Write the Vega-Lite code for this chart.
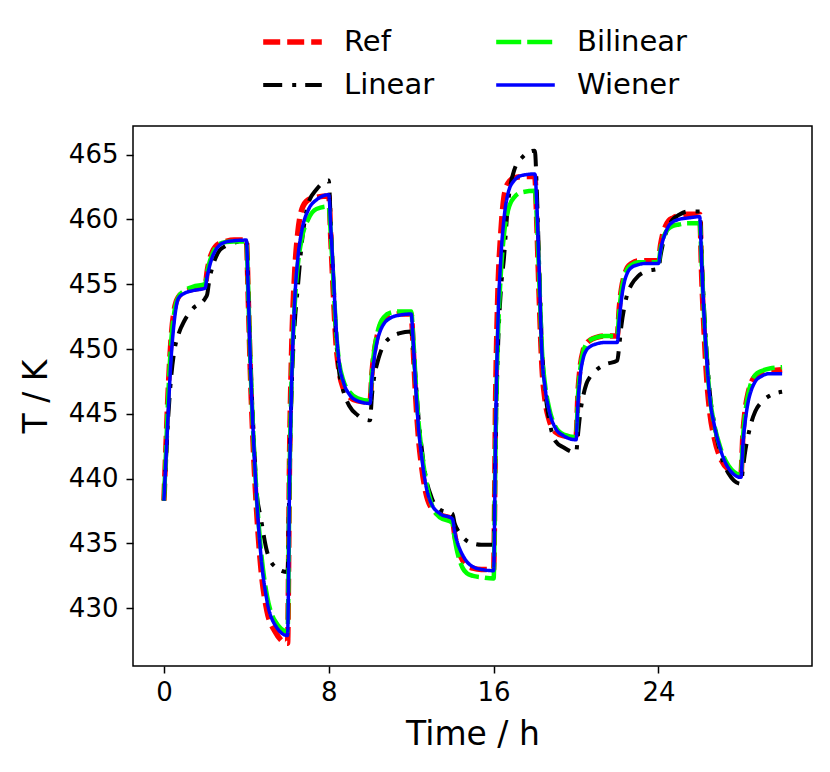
{
  "$schema": "https://vega.github.io/schema/vega-lite/v6.json",
  "width": 679,
  "height": 540,
  "autosize": {"type": "none"},
  "padding": {"left": 133, "top": 126, "right": 18, "bottom": 106},
  "background": "white",
  "config": {
    "view": {"stroke": "black", "strokeWidth": 1.5},
    "axis": {
      "grid": false,
      "domain": false,
      "tickColor": "black",
      "tickWidth": 1.5,
      "tickSize": 7,
      "labelFont": "DejaVu Sans",
      "labelFontSize": 26,
      "labelColor": "black",
      "titleFont": "DejaVu Sans",
      "titleFontSize": 33,
      "titleFontWeight": "normal",
      "titleColor": "black"
    }
  },
  "data": {
    "values": [
      {"t": 0, "Ref": 438.3, "Linear": 438.3, "Bilinear": 438.3, "Wiener": 438.3},
      {"t": 0.1, "Ref": 442.5, "Linear": 441.5, "Bilinear": 442.0, "Wiener": 441.5},
      {"t": 0.2, "Ref": 446.5, "Linear": 444.5, "Bilinear": 446.0, "Wiener": 444.8},
      {"t": 0.35, "Ref": 450.8, "Linear": 447.8, "Bilinear": 450.5, "Wiener": 449.3},
      {"t": 0.5, "Ref": 453.0, "Linear": 449.8, "Bilinear": 452.8, "Wiener": 452.1},
      {"t": 0.7, "Ref": 454.0, "Linear": 451.1, "Bilinear": 454.0, "Wiener": 453.9},
      {"t": 1.0, "Ref": 454.4, "Linear": 452.2, "Bilinear": 454.5, "Wiener": 454.3},
      {"t": 1.4, "Ref": 454.6, "Linear": 453.1, "Bilinear": 454.8, "Wiener": 454.5},
      {"t": 2.0, "Ref": 454.8, "Linear": 453.9, "Bilinear": 455.0, "Wiener": 454.7},
      {"t": 2.1, "Ref": 456.0, "Linear": 454.2, "Bilinear": 455.9, "Wiener": 455.6},
      {"t": 2.2, "Ref": 456.8, "Linear": 455.3, "Bilinear": 456.6, "Wiener": 456.3},
      {"t": 2.35, "Ref": 457.5, "Linear": 456.3, "Bilinear": 457.3, "Wiener": 457.1},
      {"t": 2.5, "Ref": 457.9, "Linear": 457.0, "Bilinear": 457.8, "Wiener": 457.6},
      {"t": 2.7, "Ref": 458.15, "Linear": 457.6, "Bilinear": 458.1, "Wiener": 458.0},
      {"t": 3.0, "Ref": 458.3, "Linear": 457.95, "Bilinear": 458.25, "Wiener": 458.25},
      {"t": 3.4, "Ref": 458.4, "Linear": 458.2, "Bilinear": 458.3, "Wiener": 458.35},
      {"t": 4.0, "Ref": 458.4, "Linear": 458.35, "Bilinear": 458.3, "Wiener": 458.4},
      {"t": 4.1, "Ref": 453.5, "Linear": 454.0, "Bilinear": 454.0, "Wiener": 454.0},
      {"t": 4.2, "Ref": 448.0, "Linear": 449.0, "Bilinear": 448.8, "Wiener": 448.8},
      {"t": 4.35, "Ref": 442.0, "Linear": 443.5, "Bilinear": 443.0, "Wiener": 443.0},
      {"t": 4.5, "Ref": 437.5, "Linear": 439.0, "Bilinear": 438.7, "Wiener": 438.5},
      {"t": 4.7, "Ref": 433.2, "Linear": 437.0, "Bilinear": 434.6, "Wiener": 434.2},
      {"t": 5.0, "Ref": 429.8, "Linear": 434.4, "Bilinear": 431.0, "Wiener": 430.6},
      {"t": 5.4, "Ref": 428.2, "Linear": 433.2, "Bilinear": 429.0, "Wiener": 428.7},
      {"t": 6.0, "Ref": 427.3, "Linear": 432.8, "Bilinear": 428.2, "Wiener": 427.9},
      {"t": 6.1, "Ref": 442.0, "Linear": 441.0, "Bilinear": 440.5, "Wiener": 440.0},
      {"t": 6.2, "Ref": 450.0, "Linear": 447.0, "Bilinear": 448.0, "Wiener": 447.5},
      {"t": 6.35, "Ref": 456.0, "Linear": 452.0, "Bilinear": 453.5, "Wiener": 453.8},
      {"t": 6.5, "Ref": 459.0, "Linear": 454.8, "Bilinear": 456.5, "Wiener": 457.0},
      {"t": 6.7, "Ref": 460.8, "Linear": 458.3, "Bilinear": 458.6, "Wiener": 459.2},
      {"t": 7.0, "Ref": 461.5, "Linear": 461.2, "Bilinear": 460.0, "Wiener": 460.7},
      {"t": 7.4, "Ref": 461.7, "Linear": 462.3, "Bilinear": 460.8, "Wiener": 461.5},
      {"t": 8.0, "Ref": 461.8, "Linear": 463.0, "Bilinear": 461.0, "Wiener": 461.9},
      {"t": 8.1, "Ref": 458.5, "Linear": 459.5, "Bilinear": 458.8, "Wiener": 459.3},
      {"t": 8.2, "Ref": 455.0, "Linear": 456.0, "Bilinear": 456.0, "Wiener": 456.5},
      {"t": 8.35, "Ref": 450.5, "Linear": 451.0, "Bilinear": 451.5, "Wiener": 451.8},
      {"t": 8.5, "Ref": 448.3, "Linear": 448.3, "Bilinear": 449.0, "Wiener": 449.0},
      {"t": 8.7, "Ref": 447.0, "Linear": 446.8, "Bilinear": 447.6, "Wiener": 447.5},
      {"t": 9.0, "Ref": 446.3, "Linear": 445.6, "Bilinear": 446.7, "Wiener": 446.5},
      {"t": 9.4, "Ref": 446.0, "Linear": 444.9, "Bilinear": 446.2, "Wiener": 446.0},
      {"t": 10.0, "Ref": 445.9, "Linear": 444.5, "Bilinear": 446.0, "Wiener": 445.8},
      {"t": 10.1, "Ref": 448.2, "Linear": 446.5, "Bilinear": 448.3, "Wiener": 447.8},
      {"t": 10.2, "Ref": 449.7, "Linear": 447.8, "Bilinear": 449.8, "Wiener": 449.2},
      {"t": 10.35, "Ref": 451.0, "Linear": 448.9, "Bilinear": 451.2, "Wiener": 450.6},
      {"t": 10.5, "Ref": 451.8, "Linear": 449.7, "Bilinear": 452.0, "Wiener": 451.4},
      {"t": 10.7, "Ref": 452.3, "Linear": 450.4, "Bilinear": 452.5, "Wiener": 452.0},
      {"t": 11.0, "Ref": 452.6, "Linear": 450.9, "Bilinear": 452.8, "Wiener": 452.4},
      {"t": 11.4, "Ref": 452.7, "Linear": 451.2, "Bilinear": 452.9, "Wiener": 452.6},
      {"t": 12.0, "Ref": 452.7, "Linear": 451.35, "Bilinear": 452.9, "Wiener": 452.7},
      {"t": 12.1, "Ref": 450.0, "Linear": 450.0, "Bilinear": 450.8, "Wiener": 450.5},
      {"t": 12.2, "Ref": 446.8, "Linear": 448.0, "Bilinear": 448.0, "Wiener": 447.6},
      {"t": 12.35, "Ref": 443.2, "Linear": 444.8, "Bilinear": 444.5, "Wiener": 444.0},
      {"t": 12.5, "Ref": 441.0, "Linear": 442.5, "Bilinear": 442.2, "Wiener": 441.8},
      {"t": 12.7, "Ref": 439.0, "Linear": 440.2, "Bilinear": 440.0, "Wiener": 439.6},
      {"t": 13.0, "Ref": 437.7, "Linear": 438.5, "Bilinear": 438.0, "Wiener": 438.0},
      {"t": 13.4, "Ref": 437.2, "Linear": 437.6, "Bilinear": 437.0, "Wiener": 437.3},
      {"t": 14.0, "Ref": 436.9, "Linear": 437.3, "Bilinear": 436.6, "Wiener": 436.9},
      {"t": 14.1, "Ref": 435.8, "Linear": 436.6, "Bilinear": 435.5, "Wiener": 436.0},
      {"t": 14.2, "Ref": 435.0, "Linear": 436.2, "Bilinear": 434.6, "Wiener": 435.3},
      {"t": 14.35, "Ref": 434.2, "Linear": 435.8, "Bilinear": 433.7, "Wiener": 434.6},
      {"t": 14.5, "Ref": 433.7, "Linear": 435.5, "Bilinear": 433.1, "Wiener": 434.1},
      {"t": 14.7, "Ref": 433.3, "Linear": 435.2, "Bilinear": 432.7, "Wiener": 433.6},
      {"t": 15.0, "Ref": 433.1, "Linear": 435.0, "Bilinear": 432.5, "Wiener": 433.2},
      {"t": 15.4, "Ref": 433.0, "Linear": 434.9, "Bilinear": 432.4, "Wiener": 433.0},
      {"t": 16.0, "Ref": 433.0, "Linear": 434.9, "Bilinear": 432.3, "Wiener": 432.9},
      {"t": 16.1, "Ref": 446.5, "Linear": 443.0, "Bilinear": 443.5, "Wiener": 444.0},
      {"t": 16.2, "Ref": 454.0, "Linear": 449.5, "Bilinear": 450.5, "Wiener": 451.5},
      {"t": 16.35, "Ref": 459.0, "Linear": 454.5, "Bilinear": 455.8, "Wiener": 457.0},
      {"t": 16.5, "Ref": 461.7, "Linear": 457.0, "Bilinear": 458.8, "Wiener": 460.0},
      {"t": 16.7, "Ref": 462.8, "Linear": 461.2, "Bilinear": 460.7, "Wiener": 462.0},
      {"t": 17.0, "Ref": 463.2, "Linear": 463.8, "Bilinear": 461.7, "Wiener": 463.0},
      {"t": 17.4, "Ref": 463.3, "Linear": 464.8, "Bilinear": 462.1, "Wiener": 463.4},
      {"t": 18.0, "Ref": 463.3, "Linear": 465.3, "Bilinear": 462.2, "Wiener": 463.5},
      {"t": 18.1, "Ref": 459.5, "Linear": 462.0, "Bilinear": 460.0, "Wiener": 461.0},
      {"t": 18.2, "Ref": 454.5, "Linear": 457.0, "Bilinear": 456.0, "Wiener": 456.5},
      {"t": 18.35, "Ref": 448.5, "Linear": 450.0, "Bilinear": 449.8, "Wiener": 449.5},
      {"t": 18.5, "Ref": 446.0, "Linear": 446.8, "Bilinear": 447.2, "Wiener": 447.0},
      {"t": 18.7, "Ref": 444.5, "Linear": 444.5, "Bilinear": 445.4, "Wiener": 445.2},
      {"t": 19.0, "Ref": 443.6, "Linear": 442.9, "Bilinear": 444.0, "Wiener": 443.9},
      {"t": 19.4, "Ref": 443.3, "Linear": 442.4, "Bilinear": 443.4, "Wiener": 443.3},
      {"t": 20.0, "Ref": 443.2, "Linear": 442.0, "Bilinear": 443.2, "Wiener": 443.0},
      {"t": 20.1, "Ref": 446.8, "Linear": 443.5, "Bilinear": 446.5, "Wiener": 446.0},
      {"t": 20.2, "Ref": 448.6, "Linear": 445.0, "Bilinear": 448.4, "Wiener": 447.9},
      {"t": 20.35, "Ref": 449.9, "Linear": 446.4, "Bilinear": 449.8, "Wiener": 449.3},
      {"t": 20.5, "Ref": 450.4, "Linear": 447.3, "Bilinear": 450.4, "Wiener": 449.9},
      {"t": 20.7, "Ref": 450.7, "Linear": 447.9, "Bilinear": 450.7, "Wiener": 450.2},
      {"t": 21.0, "Ref": 450.9, "Linear": 448.4, "Bilinear": 450.9, "Wiener": 450.4},
      {"t": 21.4, "Ref": 451.0, "Linear": 448.8, "Bilinear": 451.0, "Wiener": 450.5},
      {"t": 22.0, "Ref": 451.0, "Linear": 449.1, "Bilinear": 451.0, "Wiener": 450.5},
      {"t": 22.1, "Ref": 453.2, "Linear": 450.3, "Bilinear": 453.0, "Wiener": 452.3},
      {"t": 22.2, "Ref": 454.6, "Linear": 451.8, "Bilinear": 454.4, "Wiener": 453.8},
      {"t": 22.35, "Ref": 455.7, "Linear": 453.3, "Bilinear": 455.6, "Wiener": 455.2},
      {"t": 22.5, "Ref": 456.3, "Linear": 454.3, "Bilinear": 456.2, "Wiener": 455.9},
      {"t": 22.7, "Ref": 456.6, "Linear": 455.0, "Bilinear": 456.5, "Wiener": 456.3},
      {"t": 23.0, "Ref": 456.8, "Linear": 455.6, "Bilinear": 456.7, "Wiener": 456.5},
      {"t": 23.4, "Ref": 456.8, "Linear": 456.0, "Bilinear": 456.7, "Wiener": 456.6},
      {"t": 24.0, "Ref": 456.8, "Linear": 456.2, "Bilinear": 456.7, "Wiener": 456.6},
      {"t": 24.1, "Ref": 458.0, "Linear": 457.2, "Bilinear": 457.7, "Wiener": 457.6},
      {"t": 24.2, "Ref": 458.8, "Linear": 458.0, "Bilinear": 458.4, "Wiener": 458.3},
      {"t": 24.35, "Ref": 459.5, "Linear": 458.9, "Bilinear": 459.0, "Wiener": 459.0},
      {"t": 24.5, "Ref": 459.9, "Linear": 459.5, "Bilinear": 459.3, "Wiener": 459.5},
      {"t": 24.7, "Ref": 460.1, "Linear": 460.0, "Bilinear": 459.5, "Wiener": 459.8},
      {"t": 25.0, "Ref": 460.3, "Linear": 460.35, "Bilinear": 459.6, "Wiener": 460.0},
      {"t": 25.4, "Ref": 460.4, "Linear": 460.6, "Bilinear": 459.7, "Wiener": 460.1},
      {"t": 26.0, "Ref": 460.4, "Linear": 460.6, "Bilinear": 459.7, "Wiener": 460.2},
      {"t": 26.1, "Ref": 455.5, "Linear": 457.0, "Bilinear": 456.5, "Wiener": 456.5},
      {"t": 26.2, "Ref": 451.8, "Linear": 453.5, "Bilinear": 453.0, "Wiener": 453.0},
      {"t": 26.35, "Ref": 447.5, "Linear": 449.5, "Bilinear": 449.0, "Wiener": 449.0},
      {"t": 26.5, "Ref": 445.0, "Linear": 446.5, "Bilinear": 446.2, "Wiener": 446.1},
      {"t": 26.7, "Ref": 443.2, "Linear": 444.3, "Bilinear": 444.2, "Wiener": 444.2},
      {"t": 27.0, "Ref": 441.6, "Linear": 442.0, "Bilinear": 442.4, "Wiener": 442.3},
      {"t": 27.4, "Ref": 440.7, "Linear": 440.4, "Bilinear": 441.0, "Wiener": 440.8},
      {"t": 28.0, "Ref": 440.3, "Linear": 439.6, "Bilinear": 440.3, "Wiener": 440.1},
      {"t": 28.1, "Ref": 443.5, "Linear": 440.8, "Bilinear": 443.2, "Wiener": 442.7},
      {"t": 28.2, "Ref": 445.2, "Linear": 442.0, "Bilinear": 444.9, "Wiener": 444.3},
      {"t": 28.35, "Ref": 446.6, "Linear": 443.3, "Bilinear": 446.5, "Wiener": 445.9},
      {"t": 28.5, "Ref": 447.4, "Linear": 444.3, "Bilinear": 447.4, "Wiener": 446.8},
      {"t": 28.7, "Ref": 447.9, "Linear": 445.2, "Bilinear": 448.0, "Wiener": 447.5},
      {"t": 29.0, "Ref": 448.2, "Linear": 445.9, "Bilinear": 448.3, "Wiener": 447.9},
      {"t": 29.4, "Ref": 448.3, "Linear": 446.4, "Bilinear": 448.5, "Wiener": 448.1},
      {"t": 30.0, "Ref": 448.4, "Linear": 446.7, "Bilinear": 448.6, "Wiener": 448.1}
    ]
  },
  "transform": [
    {"fold": ["Ref", "Linear", "Bilinear", "Wiener"], "as": ["series", "T"]}
  ],
  "mark": {"type": "line", "interpolate": "monotone", "strokeCap": "butt"},
  "encoding": {
    "x": {
      "field": "t",
      "type": "quantitative",
      "scale": {"domain": [-1.5, 31.45], "nice": false, "zero": false},
      "axis": {"values": [0, 8, 16, 24], "title": "Time / h", "labelPadding": 6, "titlePadding": 13}
    },
    "y": {
      "field": "T",
      "type": "quantitative",
      "scale": {"domain": [425.55, 467.2], "nice": false, "zero": false},
      "axis": {"values": [430, 435, 440, 445, 450, 455, 460, 465], "title": "T / K", "labelPadding": 8, "titlePadding": 15}
    },
    "color": {
      "field": "series",
      "type": "nominal",
      "scale": {
        "domain": ["Ref", "Linear", "Bilinear", "Wiener"],
        "range": ["#ff0000", "#000000", "#00ff00", "#0000ff"]
      },
      "legend": {
        "title": null,
        "orient": "none",
        "legendX": 127,
        "legendY": -99,
        "columns": 2,
        "symbolType": "stroke",
        "symbolSize": 3434,
        "labelFont": "DejaVu Sans",
        "labelFontSize": 29,
        "labelColor": "black",
        "labelOffset": 19,
        "columnPadding": 58,
        "rowPadding": 13,
        "clipHeight": 30,
        "padding": 0
      }
    },
    "strokeDash": {
      "field": "series",
      "type": "nominal",
      "scale": {
        "domain": ["Ref", "Linear", "Bilinear", "Wiener"],
        "range": [[17, 7], [19, 10, 4, 9], [25, 6], [1, 0]]
      }
    },
    "strokeWidth": {
      "field": "series",
      "type": "nominal",
      "scale": {
        "type": "ordinal",
        "domain": ["Ref", "Linear", "Bilinear", "Wiener"],
        "range": [5.5, 4, 4.5, 3.5]
      }
    }
  }
}
